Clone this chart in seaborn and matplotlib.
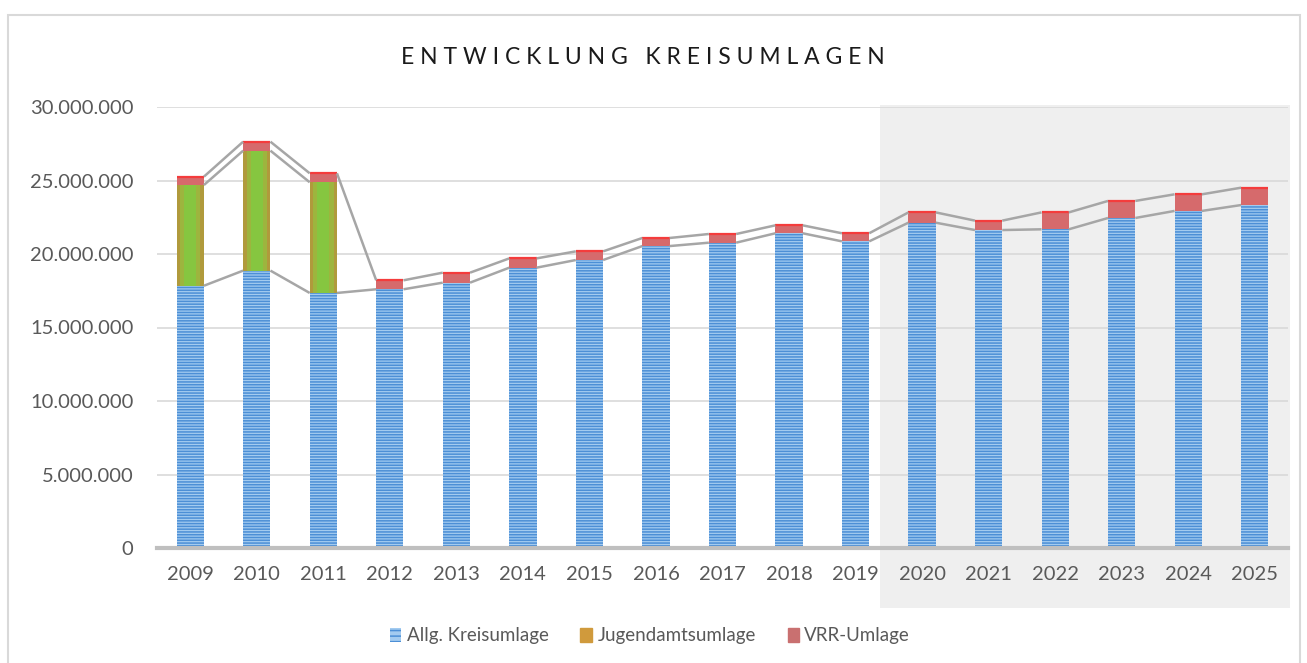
import matplotlib
matplotlib.use("Agg")
import matplotlib.pyplot as plt
import matplotlib.patches as mpatches
from matplotlib.ticker import FuncFormatter
import numpy as np
import pandas as pd
import seaborn as sns

years = [str(y) for y in range(2009, 2026)]
allg_kreisumlage = [17.84, 18.87, 17.35, 17.60, 18.05, 19.07, 19.59, 20.54, 20.77,
                    21.41, 20.86, 22.13, 21.63, 21.68, 22.45, 22.93, 23.33]
jugendamtsumlage = [6.85, 8.16, 7.53, 0, 0, 0, 0, 0, 0, 0, 0, 0, 0, 0, 0, 0, 0]
vrr_umlage = [0.57, 0.61, 0.61, 0.61, 0.68, 0.63, 0.59, 0.55, 0.59,
              0.54, 0.55, 0.70, 0.64, 1.15, 1.16, 1.13, 1.18]

M = 1_000_000
df = pd.DataFrame({"Jahr": years,
                   "blau": np.array(allg_kreisumlage) * M,
                   "gruen": np.array(jugendamtsumlage) * M,
                   "rot": np.array(vrr_umlage) * M})
df["top_gruen"] = df["blau"] + df["gruen"]
df["total"] = df["top_gruen"] + df["rot"]

FONT = ["Lato", "DejaVu Sans"]
sns.set_style("white")
plt.rcParams["font.family"] = FONT
plt.rcParams["hatch.linewidth"] = 1.1

fig = plt.figure(figsize=(13.07, 6.63), dpi=100)
W, H = 1307, 663

# Rahmen und Prognose-Bereich (Figurkoordinaten)
fig.patches.append(mpatches.Rectangle((8 / W, -0.05), 1292 / W, 1 - 15 / H + 0.05,
                                      transform=fig.transFigure, fill=False,
                                      edgecolor="#d9d9d9", linewidth=1.5, zorder=-2))
fig.patches.append(mpatches.Rectangle((880 / W, 1 - 608 / H), 410 / W, 503 / H,
                                      transform=fig.transFigure, facecolor="#efefef",
                                      edgecolor="none", zorder=-1))

ax = fig.add_axes([157 / W, 1 - 548 / H, 1131 / W, 441 / H])
ax.set_zorder(1)
ax.patch.set_alpha(0)

width = 0.41
x = np.arange(len(years))
half = width / 2

# Gesamt (rot), dann Jugendamt, dann Allg. Kreisumlage ueberdecken
sns.barplot(data=df, x="Jahr", y="total", color="#d66a6c", width=width,
            linewidth=0, saturation=1, ax=ax, zorder=2)
ax.hlines(df["total"], x - half, x + half, color="#f43c3c", linewidth=1.6, zorder=2.5)
sns.barplot(data=df, x="Jahr", y="top_gruen", color="#b09a3c", width=width,
            linewidth=0, saturation=1, ax=ax, zorder=3)
sns.barplot(data=df, x="Jahr", y="top_gruen", color="#9db53e", width=width * 0.75,
            linewidth=0, saturation=1, ax=ax, zorder=3)
sns.barplot(data=df, x="Jahr", y="top_gruen", color="#86c640", width=width * 0.45,
            linewidth=0, saturation=1, ax=ax, zorder=3)
sns.barplot(data=df, x="Jahr", y="blau", color="#a3cbf0", width=width,
            edgecolor="#4c8fd6", linewidth=0, saturation=1, hatch="------",
            ax=ax, zorder=4)

# Reihenverbindungslinien
for col, n in [("blau", len(years)), ("top_gruen", 3), ("total", len(years))]:
    vals = df[col].to_numpy()
    for i in range(n - 1):
        ax.plot([x[i] + half, x[i + 1] - half], [vals[i], vals[i + 1]],
                color="#a6a6a6", linewidth=1.8, zorder=5, solid_capstyle="butt")

ax.set_ylim(0, 30 * M)
ax.set_xlim(-0.5, len(years) - 0.5)
ax.set_yticks(np.arange(0, 30 * M + 1, 5 * M))
ax.yaxis.set_major_formatter(FuncFormatter(lambda v, p: f"{int(v):,}".replace(",", ".")))
ax.grid(axis="y", color="#d9d9d9", linewidth=1.2, zorder=0)
ax.set_axisbelow(True)
for s in ["top", "right", "left"]:
    ax.spines[s].set_visible(False)
ax.spines["bottom"].set_color("#bfbfbf")
ax.spines["bottom"].set_linewidth(3)
ax.spines["bottom"].set_zorder(6)
ax.tick_params(axis="both", length=0, labelsize=14.5, labelcolor="#595959")
ax.tick_params(axis="x", pad=13)
ax.tick_params(axis="y", pad=17)
ax.set_xlabel("")
ax.set_ylabel("")

fig.text(643 / W, 1 - 57 / H, "E N T W I C K L U N G   K R E I S U M L A G E N",
         ha="center", va="center", fontsize=16.5, color="#1a1a1a", family=FONT)

handles = [
    mpatches.Patch(facecolor="#a3cbf0", edgecolor="#4c8fd6", linewidth=0, hatch="---"),
    mpatches.Patch(facecolor="#d09a3c", edgecolor="#d09a3c"),
    mpatches.Patch(facecolor="#c97070", edgecolor="#c97070"),
]
fig.legend(handles, ["Allg. Kreisumlage", "Jugendamtsumlage", "VRR-Umlage"],
           loc="center", bbox_to_anchor=(650 / W, 1 - 636 / H), ncol=3, frameon=False,
           fontsize=13.5, labelcolor="#595959", handlelength=0.6, handleheight=0.75,
           handletextpad=0.3, columnspacing=1.7)

fig.savefig("out.png", dpi=100)
